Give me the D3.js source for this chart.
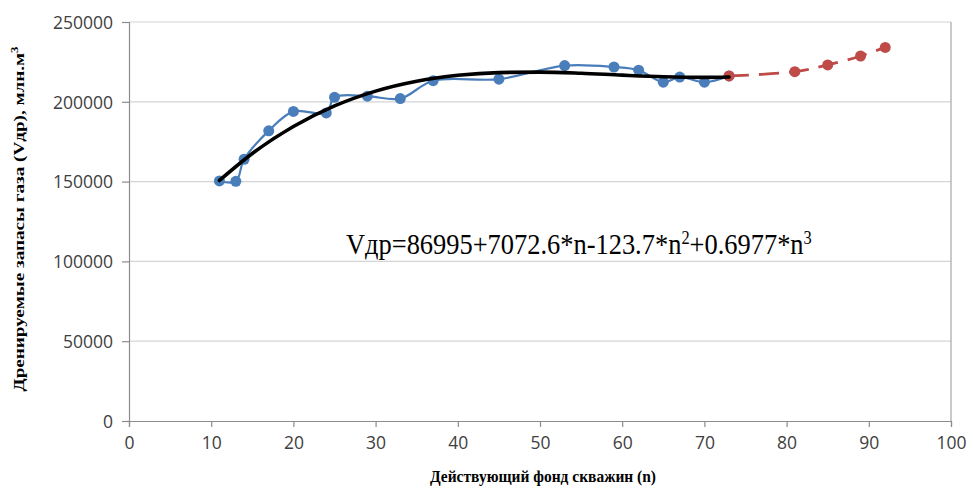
<!DOCTYPE html>
<html>
<head>
    <meta charset="utf-8">
    <script src="https://d3js.org/d3.v7.min.js"></script>
    <style>
        body { margin: 0; background: #fff; }
        .tick text { font-family: "Open Sans", sans-serif; font-size: 17.5px; fill: #404040; }
    </style>
</head>
<body>
<script>
    // fact data (blue) - n and Vdr
    var factN = [11, 13, 14, 17, 20, 24, 25, 29, 33, 37, 45, 53, 59, 62, 65, 67, 70, 73];
    var factV = [150400, 150200, 164000, 181800, 194000, 193000, 202800, 203500, 202000, 213200, 214200, 222700, 221800, 219800, 212300, 215500, 212300, 216200];

    // forecast (red dashed)
    var progN = [73, 81, 85, 89, 92];
    var progV = [216200, 218900, 223100, 228700, 234100];

    // trend curve
    var trendN = [11, 15, 20, 25, 30, 35, 40, 45, 50, 55, 60, 65, 70, 73];
    var trendV = [150700, 167600, 184500, 197400, 206700, 212900, 216600, 218300, 218600, 217900, 216700, 215700, 215300, 215500];

    var xTicks = [0, 10, 20, 30, 40, 50, 60, 70, 80, 90, 100];
    var yTicks = [0, 50000, 100000, 150000, 200000, 250000];

    var W = 973, H = 493;
    var margin = {top: 22, right: 22, bottom: 72, left: 129};
    var width = W - margin.left - margin.right;
    var height = H - margin.top - margin.bottom;

    var svg = d3.select("body").append("svg")
        .attr("width", W)
        .attr("height", H);

    var g = svg.append("g")
        .attr("transform", "translate(" + margin.left + "," + margin.top + ")");

    var x = d3.scaleLinear().domain([0, 100]).range([0, width]);
    var y = d3.scaleLinear().domain([0, 250000]).range([height, 0]);

    // gridlines
    g.append("g").selectAll("line")
        .data(yTicks.filter(d => d > 0))
        .enter().append("line")
        .attr("x1", 0).attr("x2", width)
        .attr("y1", d => y(d)).attr("y2", d => y(d))
        .attr("stroke", "#d4d4d4").attr("stroke-width", 1.2);

    // right border
    g.append("line")
        .attr("x1", width).attr("x2", width)
        .attr("y1", 0).attr("y2", height)
        .attr("stroke", "#a6a6a6").attr("stroke-width", 1.2);

    // axes
    g.append("g")
        .attr("transform", "translate(0," + height + ")")
        .call(d3.axisBottom(x).tickValues(xTicks).tickSize(6).tickPadding(10).tickFormat(d3.format("d")));
    var yAxis = g.append("g")
        .call(d3.axisLeft(y).tickValues(yTicks).tickSize(7).tickPadding(9).tickFormat(d3.format("d")));
    g.selectAll(".domain").attr("stroke", "#8c8c8c").attr("stroke-width", 1.2);
    g.selectAll(".tick line").attr("stroke", "#8c8c8c").attr("stroke-width", 1.2);
    yAxis.selectAll(".tick text").attr("dy", "0.36em");

    var line = d3.line()
        .x(d => x(d[0]))
        .y(d => y(d[1]))
        .curve(d3.curveCatmullRom.alpha(0.5));

    var fact = factN.map((n, i) => [n, factV[i]]);
    var prog = progN.map((n, i) => [n, progV[i]]);
    var trend = trendN.map((n, i) => [n, trendV[i]]);

    g.append("path")
        .datum(fact)
        .attr("d", line)
        .attr("fill", "none")
        .attr("stroke", "#4a7ebb")
        .attr("stroke-width", 2.2);

    g.append("path")
        .datum(prog)
        .attr("d", line)
        .attr("fill", "none")
        .attr("stroke", "#be4b48")
        .attr("stroke-width", 2.8)
        .attr("stroke-dasharray", "20,10");

    g.append("g").selectAll("circle")
        .data(fact)
        .enter().append("circle")
        .attr("cx", d => x(d[0]))
        .attr("cy", d => y(d[1]))
        .attr("r", 5.5)
        .attr("fill", "#4a7ebb");

    g.append("g").selectAll("circle")
        .data(prog)
        .enter().append("circle")
        .attr("cx", d => x(d[0]))
        .attr("cy", d => y(d[1]))
        .attr("r", 5.5)
        .attr("fill", "#be4b48");

    // trend line (black)
    g.append("path")
        .datum(trend)
        .attr("d", d3.line().x(d => x(d[0])).y(d => y(d[1])).curve(d3.curveMonotoneX))
        .attr("fill", "none")
        .attr("stroke", "#000")
        .attr("stroke-width", 3.6)
        .attr("stroke-linecap", "round");

    // equation, squeezed horizontally to the width of the original
    var eqG = svg.append("g");
    var eq = eqG.append("text")
        .attr("x", 0)
        .attr("y", 0)
        .style("font-family", "'Liberation Serif', serif")
        .style("font-size", "29px")
        .attr("fill", "#000");
    eq.append("tspan").text("Vдр=86995+7072.6*n-123.7*n");
    eq.append("tspan").attr("dy", -10).style("font-size", "18px").text("2");
    eq.append("tspan").attr("dy", 10).text("+0.6977*n");
    eq.append("tspan").attr("dy", -10).style("font-size", "18px").text("3");
    var eqW = eq.node().getBBox().width;
    eqG.attr("transform", "translate(346,254) scale(" + (466 / eqW) + ",1)");

    // axis titles
    svg.append("text")
        .attr("x", 543)
        .attr("y", 482)
        .attr("text-anchor", "middle")
        .style("font-family", "'Liberation Serif', serif")
        .style("font-size", "16px")
        .style("font-weight", "bold")
        .attr("textLength", 226)
        .attr("lengthAdjust", "spacingAndGlyphs")
        .text("Действующий фонд скважин (n)");

    var yt = svg.append("text")
        .attr("transform", "translate(24,219) rotate(-90)")
        .attr("text-anchor", "middle")
        .style("font-family", "'Liberation Serif', serif")
        .style("font-size", "15px")
        .style("font-weight", "bold")
        .attr("textLength", 345)
        .attr("lengthAdjust", "spacingAndGlyphs");
    yt.append("tspan").text("Дренируемые запасы газа (Vдр), млн.м");
    yt.append("tspan").attr("dy", -6).style("font-size", "10px").text("3");
</script>
</body>
</html>
